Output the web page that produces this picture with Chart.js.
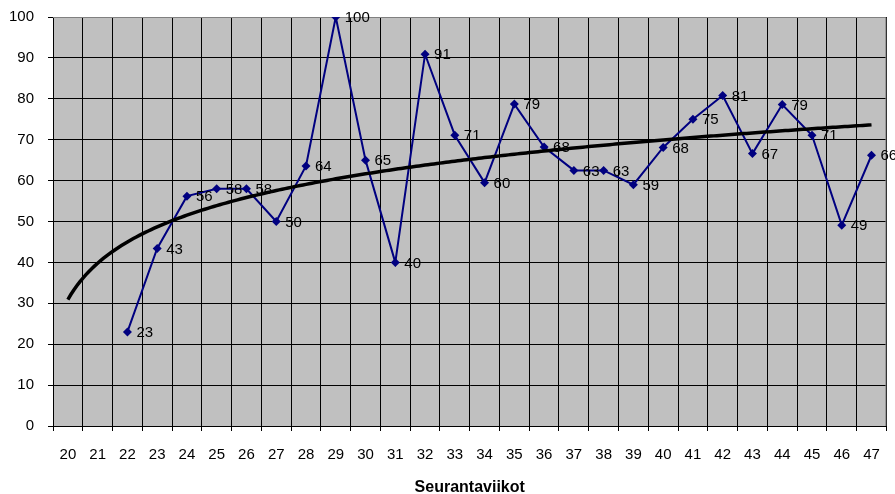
<!DOCTYPE html>
<html>
<head>
<meta charset="utf-8">
<script src="https://cdn.jsdelivr.net/npm/chart.js@4.4.0/dist/chart.umd.min.js"></script>
<style>
  html, body { margin: 0; padding: 0; background: #fff; }
  canvas { display: block; }
</style>
</head>
<body>
<canvas id="kaavio" width="895" height="494"></canvas>
<script>
// viikot ja arvot
const viikot = ['20','21','22','23','24','25','26','27','28','29','30','31','32','33',
  '34','35','36','37','38','39','40','41','42','43','44','45','46','47'];
const arvot = [null, null, 23, 43.4, 56.2, 58, 58, 50, 63.6, 100, 65, 40, 90.9, 71.1,
  59.5, 78.7, 68.2, 62.5, 62.5, 59, 68.1, 75, 80.8, 66.6, 78.6, 71.1, 49.1, 66.2];
const yTicks = [0, 10, 20, 30, 40, 50, 60, 70, 80, 90, 100];

// logaritminen trendiviiva (kuten Excel: x = 1..n), sovitettu arvoihin
function logTrendi(ys) {
  const pts = [];
  ys.forEach((y, i) => { if (y !== null) pts.push([Math.log(i + 1), y]); });
  const n = pts.length;
  const mx = pts.reduce((s, p) => s + p[0], 0) / n;
  const my = pts.reduce((s, p) => s + p[1], 0) / n;
  let sxy = 0, sxx = 0;
  pts.forEach(p => { sxy += (p[0] - mx) * (p[1] - my); sxx += (p[0] - mx) ** 2; });
  const a = sxy / sxx, b = my - a * mx;
  // tiheämpi piirto, jotta käyrä on pehmeä alussa
  const out = [];
  for (let i = 0; i <= (ys.length - 1) * 10; i++) {
    const x = i / 10;
    out.push({ x: x, y: a * Math.log(x + 1) + b });
  }
  return out;
}
const trendi = logTrendi(arvot);

// harmaa tausta piirtoalueelle + reunat
const taustaPlugin = {
  id: 'tausta',
  beforeDraw(chart) {
    const { ctx, chartArea: a } = chart;
    ctx.save();
    ctx.fillStyle = '#C0C0C0';
    ctx.fillRect(a.left, a.top, a.right - a.left, a.bottom - a.top);
    ctx.restore();
  },
  beforeDatasetsDraw(chart) {
    const { ctx, chartArea: a } = chart;
    ctx.save();
    ctx.strokeStyle = '#808080';
    ctx.lineWidth = 1;
    ctx.beginPath();
    ctx.moveTo(a.left, a.top + 0.5);
    ctx.lineTo(a.right - 0.5, a.top + 0.5);
    ctx.lineTo(a.right - 0.5, a.bottom);
    ctx.stroke();
    ctx.restore();
  }
};

// arvojen tekstit pisteiden oikealle puolelle
const arvoPlugin = {
  id: 'arvot',
  afterDatasetsDraw(chart) {
    const { ctx } = chart;
    const meta = chart.getDatasetMeta(0);
    ctx.save();
    ctx.font = '15px "Liberation Sans", Arial, sans-serif';
    ctx.fillStyle = '#000';
    ctx.textAlign = 'left';
    ctx.textBaseline = 'middle';
    meta.data.forEach((p, i) => {
      if (arvot[i] === null) return;
      ctx.fillText(Math.round(arvot[i]), p.x + 9, p.y + 1);
    });
    ctx.restore();
  }
};

const fontti = '"Liberation Sans", Arial, sans-serif';

new Chart(document.getElementById('kaavio'), {
  type: 'line',
  data: {
    labels: viikot,
    datasets: [
      {
        label: 'Arvo',
        data: arvot,
        borderColor: '#000080',
        backgroundColor: '#000080',
        borderWidth: 2,
        pointStyle: 'rectRot',
        pointRadius: 4.5,
        pointBorderWidth: 0,
        tension: 0,
        order: 1
      },
      {
        label: 'Trendi',
        data: trendi,
        xAxisID: 'x2',
        borderColor: '#000',
        borderWidth: 3.5,
        pointRadius: 0,
        tension: 0,
        order: 0
      }
    ]
  },
  options: {
    responsive: false,
    animation: false,
    layout: { padding: { top: 17, right: 8, left: 0, bottom: 0 } },
    plugins: { legend: { display: false }, tooltip: { enabled: false } },
    scales: {
      x: {
        offset: true,
        grid: { offset: true, color: '#000', lineWidth: 1, tickLength: 5, tickColor: '#000' },
        border: { color: '#000', width: 1 },
        ticks: { color: '#000', padding: 15, maxRotation: 0, autoSkip: false,
          font: { family: fontti, size: 15 } },
        title: { display: true, text: 'Seurantaviikot', color: '#000',
          font: { family: fontti, size: 16, weight: 'bold' },
          padding: { top: 0, bottom: -3 } },
        afterFit(s) { s.height = 68; }
      },
      // piilotettu lineaarinen akseli trendiviivalle (indeksit -0.5 .. 27.5)
      x2: {
        type: 'linear',
        display: false,
        min: -0.5,
        max: viikot.length - 0.5
      },
      y: {
        min: 0,
        max: 100,
        afterBuildTicks(s) { s.ticks = yTicks.map(v => ({ value: v })); },
        grid: { color: '#000', lineWidth: 1, tickLength: 5, tickColor: '#000' },
        border: { color: '#000', width: 1 },
        ticks: { color: '#000', padding: 14,
          font: { family: fontti, size: 15 } },
        afterFit(s) {
          s.width = 53;
          s.paddingTop = 0;
          s.paddingBottom = 0;
        }
      }
    }
  },
  plugins: [taustaPlugin, arvoPlugin]
});
</script>
</body>
</html>
